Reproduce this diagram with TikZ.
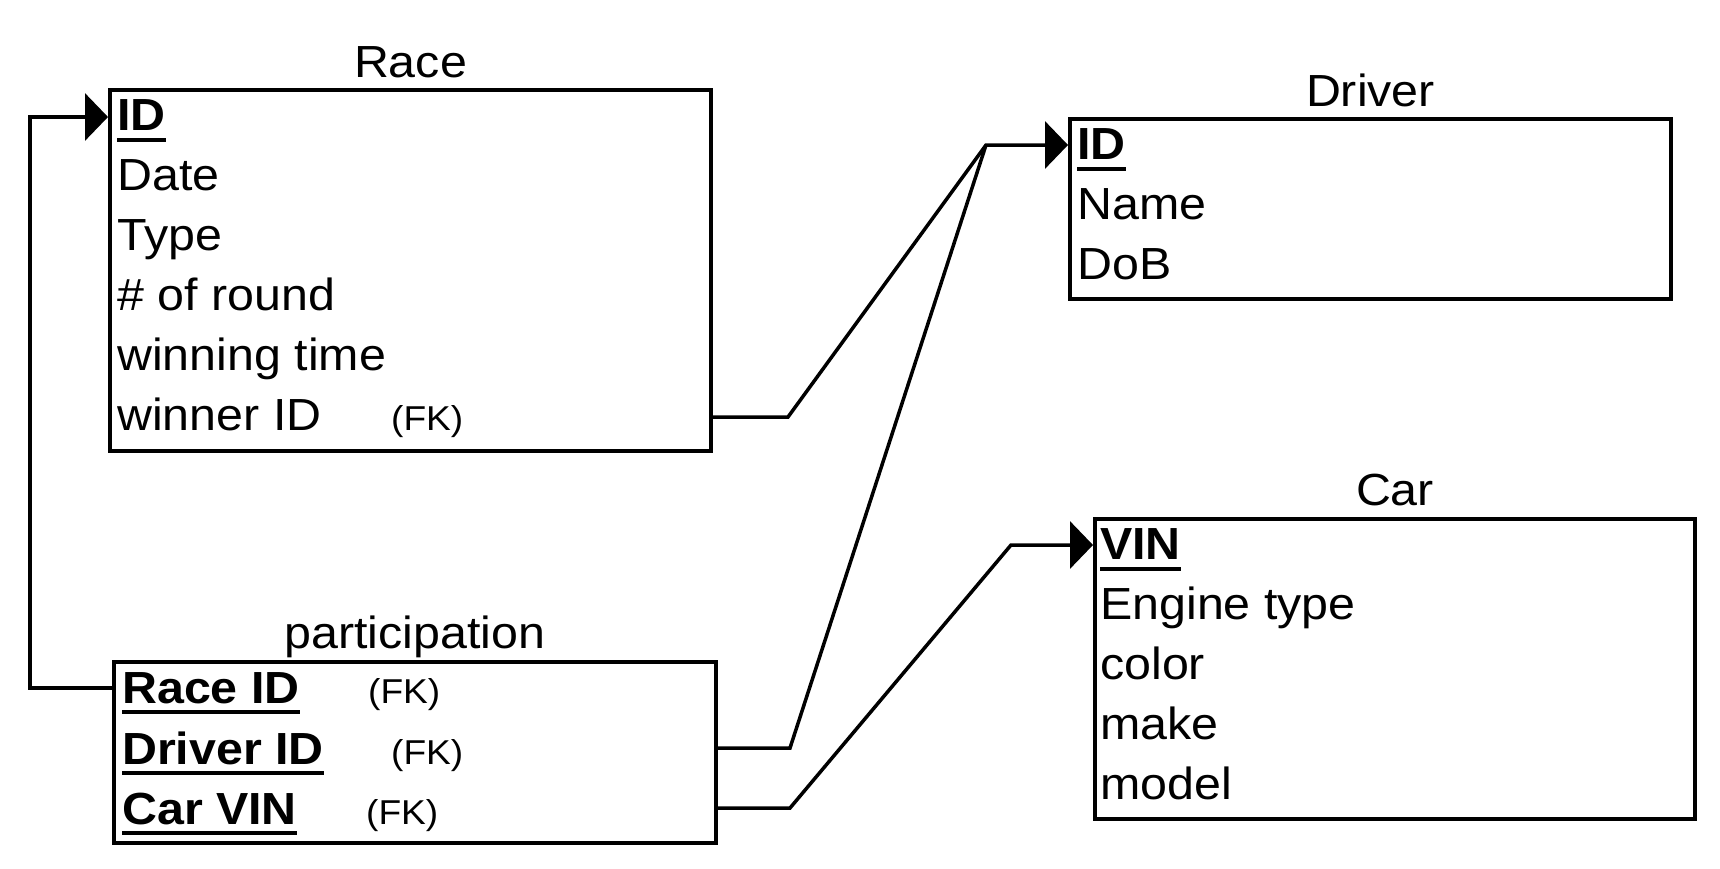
\documentclass[tikz,border=0pt]{standalone}
\usepackage{fontspec}
\setmainfont[FakeStretch=1.075]{Liberation Sans}
\usetikzlibrary{arrows.meta}
\begin{document}
\begin{tikzpicture}[x=1pt,y=-1pt,
 ebox/.style={draw, line width=4pt, rectangle, inner sep=0pt, anchor=north west},
 row/.style={inner sep=0pt, anchor=base west, font=\fontsize{45}{45}\selectfont},
 key/.style={inner sep=0pt, anchor=base west, font=\fontsize{45}{45}\selectfont\bfseries},
 fk/.style={inner sep=0pt, anchor=base west, font=\fontsize{34.5}{34.5}\selectfont},
 ttl/.style={inner sep=0pt, anchor=base, font=\fontsize{45}{45}\selectfont},
 conn/.style={line width=3.5pt},
 arr/.style={-{Triangle[length=23pt,width=47pt]}},
 uline/.style={line width=4pt}]
\useasboundingbox (0,0) rectangle (1720,868);

% Race
\node[ebox, minimum width=601pt, minimum height=361pt] (race) at (108,88) {};
\node[ttl] (raceT) at (race.north |- 0,77) {Race};
\node[key] (rID) at (117,130) {ID};
\draw[uline] ([yshift=-10pt]rID.base west) -- ([yshift=-10pt]rID.base east);
\node[row] (rDate) at (117,190) {Date};
\node[row] (rType) at (117,250) {Type};
\node[row] (rRound) at (117,310) {\# of round};
\node[row] (rTime) at (117,370) {winning time};
\node[row] (rWin) at (117,430) {winner ID};
\node[fk] (rWinFK) at (391,430) {(FK)};

% Driver
\node[ebox, minimum width=601pt, minimum height=180pt] (driver) at (1068,117) {};
\node[ttl] (driverT) at (driver.north |- 0,106) {Driver};
\node[key] (dID) at (1077,159) {ID};
\draw[uline] ([yshift=-10pt]dID.base west) -- ([yshift=-10pt]dID.base east);
\node[row] (dName) at (1077,219) {Name};
\node[row] (dDoB) at (1077,279) {DoB};

% Car
\node[ebox, minimum width=600pt, minimum height=300pt] (car) at (1093,517) {};
\node[ttl] (carT) at (car.north |- 0,505) {Car};
\node[key] (cVIN) at (1100,559) {VIN};
\draw[uline] ([yshift=-10pt]cVIN.base west) -- ([yshift=-10pt]cVIN.base east);
\node[row] (cEng) at (1100,619) {Engine type};
\node[row] (cCol) at (1100,679) {color};
\node[row] (cMake) at (1100,739) {make};
\node[row] (cModel) at (1100,799) {model};

% participation
\node[ebox, minimum width=602pt, minimum height=181pt] (part) at (112,660) {};
\node[ttl] (partT) at (part.north |- 0,648) {participation};
\node[key] (pRace) at (122,703) {Race ID};
\draw[uline] ([yshift=-9pt]pRace.base west) -- ([yshift=-9pt]pRace.base east);
\node[fk] (pRaceFK) at (368,703) {(FK)};
\node[key] (pDriver) at (122,764) {Driver ID};
\draw[uline] ([yshift=-9pt]pDriver.base west) -- ([yshift=-9pt]pDriver.base east);
\node[fk] (pDriverFK) at (391,764) {(FK)};
\node[key] (pCar) at (122,824) {Car VIN};
\draw[uline] ([yshift=-9pt]pCar.base west) -- ([yshift=-9pt]pCar.base east);
\node[fk] (pCarFK) at (366,824) {(FK)};

% connector bends
\coordinate (kPart) at (30,688);
\coordinate (kRace) at (30,117);
\coordinate (kWin) at (788,417);
\coordinate (kJoin) at (986,145);
\coordinate (kDrv) at (790,748);
\coordinate (kCar1) at (790,808);
\coordinate (kCar2) at (1011,545);

\draw[conn, arr] (part.west |- kPart) -- (kPart) -- (kRace) -- (race.west |- kRace);
\draw[conn, arr] (race.east |- kWin) -- (kWin) -- (kJoin) -- (driver.west |- kJoin);
\draw[conn] (part.east |- kDrv) -- (kDrv) -- (kJoin);
\draw[conn, arr] (part.east |- kCar1) -- (kCar1) -- (kCar2) -- (car.west |- kCar2);
\end{tikzpicture}
\end{document}
